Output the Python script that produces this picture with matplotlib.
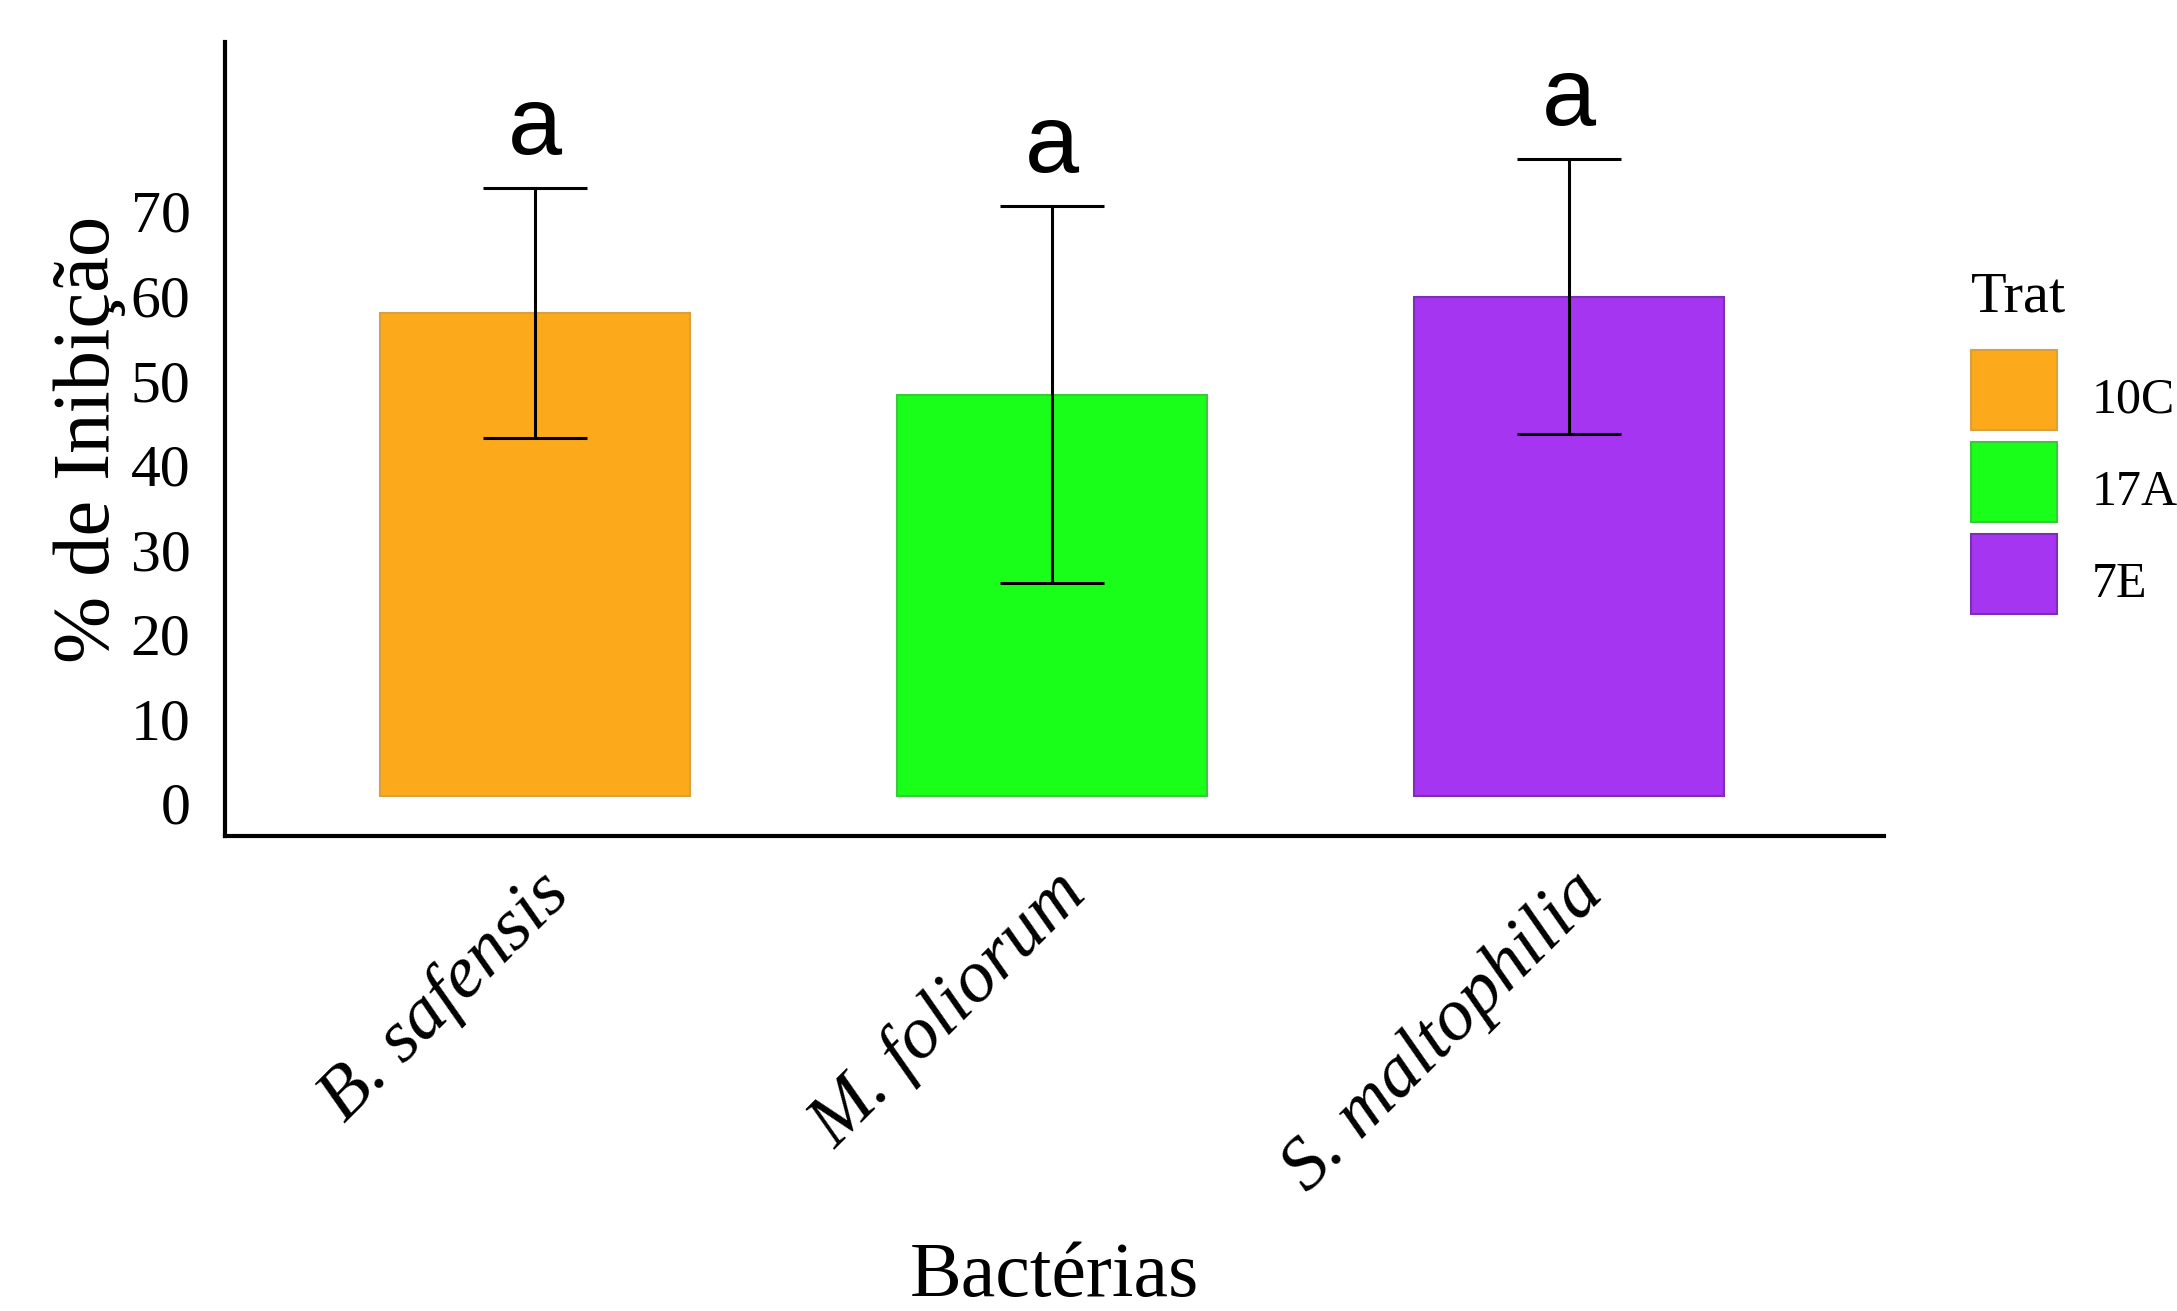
import numpy as np
import matplotlib.pyplot as plt
from matplotlib.transforms import ScaledTranslation

# dados
bacterias = ["B. safensis", "M. foliorum", "S. maltophilia"]
trat = ["10C", "17A", "7E"]
media = [57.2, 47.5, 59.1]
dp = [14.8, 22.3, 16.3]
letras = ["a", "a", "a"]
cores = ["#FCA91C", "#1AFF1A", "#A535F0"]
bordas = ["#D9A040", "#3CC83C", "#7A2FB5"]

plt.rcParams['font.family'] = ['Liberation Serif', 'DejaVu Serif']

fig = plt.figure(figsize=(21.77, 13.11), dpi=100, facecolor='white')
ax = fig.add_axes([0.1034, 0.3623, 0.7621, 0.6056])

x = np.arange(len(bacterias))
barras = ax.bar(x, media, width=0.6, color=cores, edgecolor=bordas, linewidth=1.5)
ax.errorbar(x, media, yerr=dp, fmt='none', ecolor='black',
            elinewidth=2.2, capsize=37.5, capthick=2.2)

# letras de significância
for xi, m, d, l in zip(x, media, dp, letras):
    ax.text(xi, m + d + 4, l, ha='center', va='baseline',
            fontsize=70, family='Liberation Sans')

ax.set_xlim(-0.6, 2.61)
ax.set_ylim(-4.7, 89.2)

for s in ['top', 'right']:
    ax.spines[s].set_visible(False)
for s in ['left', 'bottom']:
    ax.spines[s].set_linewidth(3)

ax.set_yticks(np.arange(0, 80, 10))
ax.tick_params(axis='y', length=0, labelsize=43, pad=25)
for lab in ax.get_yticklabels():
    lab.set_transform(lab.get_transform() + ScaledTranslation(0, -0.07, fig.dpi_scale_trans))

ax.set_xticks(x)
ax.set_xticklabels(bacterias, rotation=45, ha='right', va='top',
                   rotation_mode='anchor', style='italic', fontsize=54)
ax.tick_params(axis='x', length=0, pad=17)

ax.set_ylabel("% de Inibição", fontsize=58, va='center')
ax.yaxis.set_label_coords(-0.082, 0.5)
ax.set_xlabel("Bactérias", fontsize=56, va='center')
ax.xaxis.set_label_coords(0.5, -0.5554)

leg = ax.legend(barras, trat, title="Trat", loc='upper left',
                bbox_to_anchor=(1971 / 2177, 1 - 286 / 1311),
                bbox_transform=fig.transFigure, frameon=False,
                fontsize=36, title_fontsize=42, handlelength=1.72,
                handleheight=2.085, labelspacing=0.24, handletextpad=0.7,
                borderpad=0, borderaxespad=0)
leg._legend_box.align = 'left'
titulo = leg.get_title()
titulo.set_transform(titulo.get_transform() + ScaledTranslation(0, 0.14, fig.dpi_scale_trans))
for t in leg.get_texts():
    t.set_transform(t.get_transform() + ScaledTranslation(0, -0.07, fig.dpi_scale_trans))

plt.savefig('out.png', dpi=100)
